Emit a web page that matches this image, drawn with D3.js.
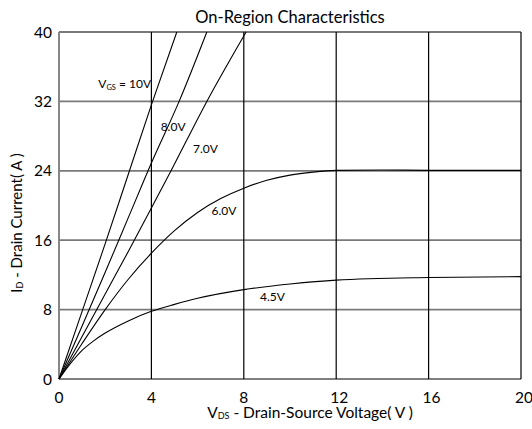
<!DOCTYPE html>
<html>
<head>
<meta charset="utf-8">
<script src="https://cdn.jsdelivr.net/npm/d3@7"></script>
<style>
  body { margin: 0; background: #fff; }
  text { font-family: Lato, "Open Sans", sans-serif; fill: #000; }
</style>
</head>
<body>
<div id="chart"></div>
<script>
// curves: [Vds, Id]
const vgs10 = [[0, 0], [1, 7.8], [2, 15.6], [3, 23.6], [4, 31.6], [5.1, 40]];
const vgs8 = [[0, 0], [1, 6.1], [2, 12.3], [3, 18.6], [4, 24.9], [5.2, 32], [6.4, 40]];
const vgs7 = [[0, 0], [1, 4.9], [2, 9.8], [3, 14.7], [4, 19.7], [4.85, 24], [6.4, 32], [8.1, 40]];
const vgs6 = [[0, 0], [1, 4.1], [2, 8.0], [3, 11.5], [4, 14.5], [5, 17.1], [6, 19.2], [7, 20.8],
  [8, 22.0], [9, 22.9], [10, 23.5], [11, 23.85], [12, 24.05], [14, 24.1], [16, 24.05], [20, 24.05]];
const vgs45 = [[0, 0], [0.5, 1.8], [1, 3.3], [1.5, 4.4], [2, 5.3], [3, 6.7], [4, 7.8], [5, 8.6],
  [6, 9.3], [8, 10.3], [10, 10.95], [12, 11.4], [16, 11.7], [20, 11.8]];

const curves = [vgs10, vgs8, vgs7, vgs6, vgs45];
const curveLabels = [
  { v: [1.7, 33.5], t: 'V', sub: 'GS', rest: ' = 10V' },
  { v: [4.4, 28.6], t: '8.0V' },
  { v: [5.8, 26.1], t: '7.0V' },
  { v: [6.6, 18.9], t: '6.0V' },
  { v: [8.7, 9.0], t: '4.5V' }
];
const xTicks = [0, 4, 8, 12, 16, 20];
const yTicks = [0, 8, 16, 24, 32, 40];

const width = 532, height = 429;
const margin = { top: 32, right: 11, bottom: 50, left: 59 };

const svg = d3.select('#chart').append('svg')
  .attr('width', width)
  .attr('height', height);

const x = d3.scaleLinear().domain([0, 20]).range([margin.left, width - margin.right]);
const y = d3.scaleLinear().domain([0, 40]).range([height - margin.bottom, margin.top]);

// horizontal grid (grey)
svg.append('g').selectAll('line')
  .data(yTicks)
  .join('line')
  .attr('x1', x(0)).attr('x2', x(20))
  .attr('y1', d => y(d)).attr('y2', d => y(d))
  .attr('stroke', d => d === 0 ? '#000' : '#7a7a7a')
  .attr('stroke-width', d => d === 0 ? 1.2 : 1.8);

// vertical grid (black)
svg.append('g').selectAll('line')
  .data(xTicks)
  .join('line')
  .attr('x1', d => x(d)).attr('x2', d => x(d))
  .attr('y1', y(0)).attr('y2', y(40))
  .attr('stroke', d => d === 0 ? '#7a7a7a' : '#000')
  .attr('stroke-width', d => d === 0 ? 1.8 : 1.2);

// curves
const line = d3.line()
  .x(d => x(d[0]))
  .y(d => y(d[1]))
  .curve(d3.curveMonotoneX);

svg.append('g').selectAll('path')
  .data(curves)
  .join('path')
  .attr('d', line)
  .attr('fill', 'none')
  .attr('stroke', '#000')
  .attr('stroke-width', 1.1);

// curve labels
curveLabels.forEach(l => {
  const t = svg.append('text')
    .attr('x', x(l.v[0]))
    .attr('y', y(l.v[1]))
    .attr('font-size', 12);
  t.append('tspan').text(l.t);
  if (l.sub) {
    t.append('tspan').text(l.sub).attr('font-size', 7.5).attr('dy', 1.5);
    t.append('tspan').text(l.rest).attr('dy', -1.5);
  }
});

// ticks
svg.append('g').selectAll('text')
  .data(yTicks)
  .join('text')
  .attr('x', margin.left - 7)
  .attr('y', d => y(d))
  .attr('dy', '0.36em')
  .attr('text-anchor', 'end')
  .attr('font-size', 15.5)
  .text(d => d);

svg.append('g').selectAll('text')
  .data(xTicks)
  .join('text')
  .attr('x', d => x(d) + (d >= 12 ? 3 : 0))
  .attr('y', y(0) + 24)
  .attr('text-anchor', 'middle')
  .attr('font-size', 15.5)
  .text(d => d);

// title
svg.append('text')
  .attr('x', x(10))
  .attr('y', 23)
  .attr('text-anchor', 'middle')
  .attr('font-size', 16.5)
  .text('On-Region Characteristics');

// x axis title
const xt = svg.append('text')
  .attr('x', 310)
  .attr('y', 418)
  .attr('text-anchor', 'middle')
  .attr('font-size', 15.5);
xt.append('tspan').text('V');
xt.append('tspan').text('DS').attr('font-size', 9).attr('dy', 1);
xt.append('tspan').text(' - Drain-Source Voltage( V )').attr('dy', -1);

// y axis title
const yt = svg.append('text')
  .attr('transform', 'translate(22,223) rotate(-90)')
  .attr('text-anchor', 'middle')
  .attr('font-size', 15);
yt.append('tspan').text('I');
yt.append('tspan').text('D').attr('font-size', 9).attr('dy', 1);
yt.append('tspan').text(' - Drain Current( A )').attr('dy', -1);
</script>
</body>
</html>
